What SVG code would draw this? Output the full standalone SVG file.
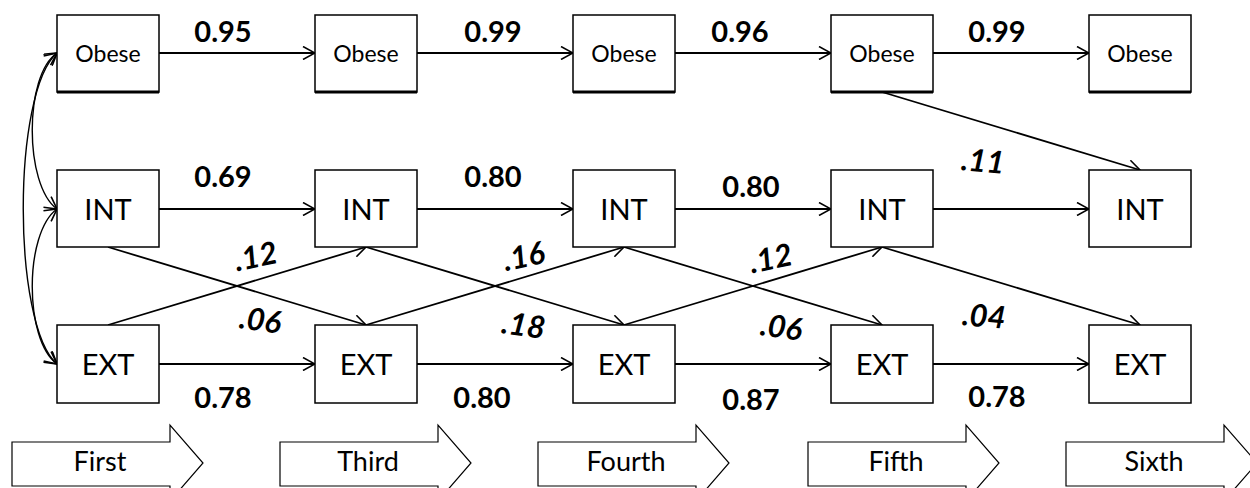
<svg xmlns="http://www.w3.org/2000/svg" width="1250" height="488" viewBox="0 0 1250 488">
  <defs>
    <marker id="open" viewBox="0 0 14 14" refX="13" refY="7" markerWidth="14" markerHeight="14" markerUnits="userSpaceOnUse" orient="auto-start-reverse">
      <path d="M1,0.5 L13,7 L1,13.5" fill="none" stroke="#000" stroke-width="1.6"/>
    </marker>
  </defs>
  <style>
    .box { fill: #fff; stroke: #000; stroke-width: 1.5; }
    .shadow { stroke: #000; stroke-width: 3; }
    .lbl { font-family: Lato, "Liberation Sans", sans-serif; fill: #000; text-anchor: middle; }
    .ob { font-size: 23px; }
    .var { font-size: 29px; }
    .coef { font-size: 29px; font-weight: bold; }
    .cross { font-size: 31px; font-weight: bold; font-style: italic; }
    .link { fill: none; stroke: #000; stroke-width: 1.8; marker-end: url(#open); }
    .cov { fill: none; stroke: #000; stroke-width: 1.4; marker-start: url(#open); marker-end: url(#open); }
    .wave { fill: #fff; stroke: #000; stroke-width: 1.2; }
    .wavetxt { font-family: Lato, "Liberation Sans", sans-serif; font-size: 27px; text-anchor: middle; fill: #000; }
  </style>
  <rect width="1250" height="488" fill="#fff"/>

  <!-- connectors -->
  <g id="connectors">
    <!-- covariances among first-wave measures -->
    <path class="cov" d="M57,53 C24,75 24,185 57,209"/>
    <path class="cov" d="M57,209 C24,233 24,340 57,364"/>
    <path class="cov" d="M57,53 C12,92 12,325 57,364"/>

    <!-- stability paths: Obese -->
    <line class="link" x1="159" y1="53" x2="315" y2="53"/>
    <line class="link" x1="417" y1="53" x2="573" y2="53"/>
    <line class="link" x1="675" y1="53" x2="831" y2="53"/>
    <line class="link" x1="933" y1="53" x2="1089" y2="53"/>
    <!-- stability paths: INT -->
    <line class="link" x1="159" y1="209" x2="315" y2="209"/>
    <line class="link" x1="417" y1="209" x2="573" y2="209"/>
    <line class="link" x1="675" y1="209" x2="831" y2="209"/>
    <line class="link" x1="933" y1="209" x2="1089" y2="209"/>
    <!-- stability paths: EXT -->
    <line class="link" x1="159" y1="364" x2="315" y2="364"/>
    <line class="link" x1="417" y1="364" x2="573" y2="364"/>
    <line class="link" x1="675" y1="364" x2="831" y2="364"/>
    <line class="link" x1="933" y1="364" x2="1089" y2="364"/>

    <!-- cross-lagged INT -> EXT -->
    <line class="link" x1="108" y1="247" x2="366" y2="325"/>
    <line class="link" x1="366" y1="247" x2="624" y2="325"/>
    <line class="link" x1="624" y1="247" x2="882" y2="325"/>
    <line class="link" x1="882" y1="247" x2="1140" y2="325"/>
    <!-- cross-lagged EXT -> INT -->
    <line class="link" x1="108" y1="325" x2="366" y2="247"/>
    <line class="link" x1="366" y1="325" x2="624" y2="247"/>
    <line class="link" x1="624" y1="325" x2="882" y2="247"/>
    <!-- Obese -> INT -->
    <line class="link" x1="882" y1="92" x2="1140" y2="170"/>
  </g>

  <!-- path coefficients -->
  <g id="coefficients">
    <text class="lbl coef" x="223" y="42">0.95</text>
    <text class="lbl coef" x="493" y="42">0.99</text>
    <text class="lbl coef" x="740" y="42">0.96</text>
    <text class="lbl coef" x="997" y="42">0.99</text>

    <text class="lbl coef" x="223" y="187">0.69</text>
    <text class="lbl coef" x="493" y="187">0.80</text>
    <text class="lbl coef" x="751" y="197">0.80</text>

    <text class="lbl coef" x="223" y="408">0.78</text>
    <text class="lbl coef" x="482" y="408">0.80</text>
    <text class="lbl coef" x="751" y="410">0.87</text>
    <text class="lbl coef" x="997" y="407">0.78</text>

    <text class="lbl cross" transform="translate(258,267) rotate(-12)">.12</text>
    <text class="lbl cross" transform="translate(526,267) rotate(-12)">.16</text>
    <text class="lbl cross" transform="translate(773,269) rotate(-12)">.12</text>
    <text class="lbl cross" transform="translate(982,172) rotate(5)">.11</text>

    <text class="lbl cross" transform="translate(259,331) rotate(8)">.06</text>
    <text class="lbl cross" transform="translate(522,336) rotate(8)">.18</text>
    <text class="lbl cross" transform="translate(780,338) rotate(8)">.06</text>
    <text class="lbl cross" transform="translate(983,327) rotate(5)">.04</text>
  </g>

  <!-- wave 1 -->
  <g id="obese1"><rect class="box" x="57" y="15" width="102" height="77"/><line class="shadow" x1="57" y1="92" x2="159" y2="92"/><text class="lbl ob" x="108" y="62">Obese</text></g>
  <g id="int1"><rect class="box" x="57" y="170" width="102" height="77"/><text class="lbl var" x="108" y="220">INT</text></g>
  <g id="ext1"><rect class="box" x="57" y="325" width="102" height="78"/><text class="lbl var" x="108" y="375">EXT</text></g>
  <!-- wave 3 -->
  <g id="obese3"><rect class="box" x="315" y="15" width="102" height="77"/><line class="shadow" x1="315" y1="92" x2="417" y2="92"/><text class="lbl ob" x="366" y="62">Obese</text></g>
  <g id="int3"><rect class="box" x="315" y="170" width="102" height="77"/><text class="lbl var" x="366" y="220">INT</text></g>
  <g id="ext3"><rect class="box" x="315" y="325" width="102" height="78"/><text class="lbl var" x="366" y="375">EXT</text></g>
  <!-- wave 4 -->
  <g id="obese4"><rect class="box" x="573" y="15" width="102" height="77"/><line class="shadow" x1="573" y1="92" x2="675" y2="92"/><text class="lbl ob" x="624" y="62">Obese</text></g>
  <g id="int4"><rect class="box" x="573" y="170" width="102" height="77"/><text class="lbl var" x="624" y="220">INT</text></g>
  <g id="ext4"><rect class="box" x="573" y="325" width="102" height="78"/><text class="lbl var" x="624" y="375">EXT</text></g>
  <!-- wave 5 -->
  <g id="obese5"><rect class="box" x="831" y="15" width="102" height="77"/><line class="shadow" x1="831" y1="92" x2="933" y2="92"/><text class="lbl ob" x="882" y="62">Obese</text></g>
  <g id="int5"><rect class="box" x="831" y="170" width="102" height="77"/><text class="lbl var" x="882" y="220">INT</text></g>
  <g id="ext5"><rect class="box" x="831" y="325" width="102" height="78"/><text class="lbl var" x="882" y="375">EXT</text></g>
  <!-- wave 6 -->
  <g id="obese6"><rect class="box" x="1089" y="15" width="102" height="77"/><line class="shadow" x1="1089" y1="92" x2="1191" y2="92"/><text class="lbl ob" x="1140" y="62">Obese</text></g>
  <g id="int6"><rect class="box" x="1089" y="170" width="102" height="77"/><text class="lbl var" x="1140" y="220">INT</text></g>
  <g id="ext6"><rect class="box" x="1089" y="325" width="102" height="78"/><text class="lbl var" x="1140" y="375">EXT</text></g>

  <!-- wave timeline arrows -->
  <g id="wave-first"><path class="wave" d="M12,442 H170 V425 L203,463 L170,501 V486 H12 Z"/><text class="wavetxt" x="100" y="471">First</text></g>
  <g id="wave-third"><path class="wave" d="M280,442 H438 V425 L471,463 L438,501 V486 H280 Z"/><text class="wavetxt" x="368" y="471">Third</text></g>
  <g id="wave-fourth"><path class="wave" d="M538,442 H696 V425 L729,463 L696,501 V486 H538 Z"/><text class="wavetxt" x="626" y="471">Fourth</text></g>
  <g id="wave-fifth"><path class="wave" d="M808,442 H966 V425 L999,463 L966,501 V486 H808 Z"/><text class="wavetxt" x="896" y="471">Fifth</text></g>
  <g id="wave-sixth"><path class="wave" d="M1066,442 H1224 V425 L1257,463 L1224,501 V486 H1066 Z"/><text class="wavetxt" x="1154" y="471">Sixth</text></g>
</svg>
